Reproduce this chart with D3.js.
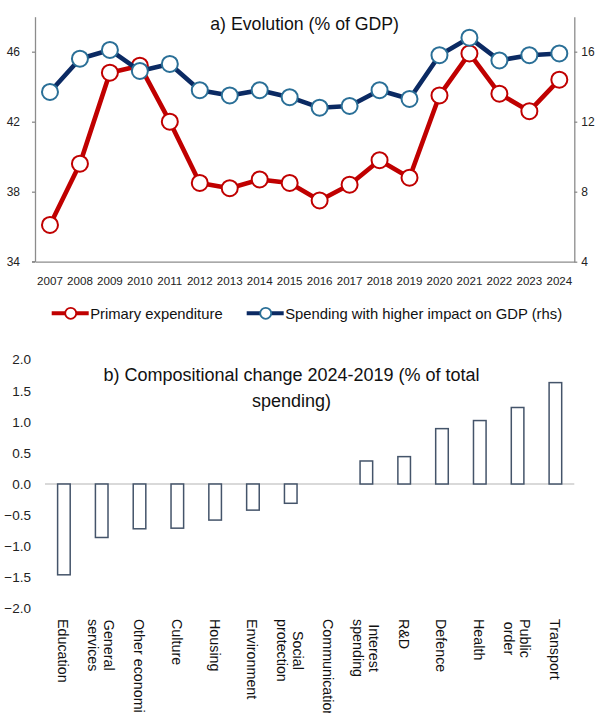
<!DOCTYPE html>
<html>
<head>
<meta charset="utf-8">
<script src="https://cdn.jsdelivr.net/npm/d3@7/dist/d3.min.js"></script>
<style>
  body { margin: 0; background: #fff; }
  svg { display: block; }
</style>
</head>
<body>
<svg id="chart" width="595" height="713"></svg>
<script>
// ---- Panel a) series ----
const years = [2007, 2008, 2009, 2010, 2011, 2012, 2013, 2014, 2015, 2016, 2017, 2018, 2019, 2020, 2021, 2022, 2023, 2024];
const primaryExpenditure = [36.1, 39.6, 44.8, 45.2, 42.0, 38.5, 38.2, 38.7, 38.5, 37.5, 38.4, 39.8, 38.8, 43.5, 45.9, 43.6, 42.6, 44.4];
const highImpactSpending = [13.7, 15.6, 16.1, 14.9, 15.3, 13.8, 13.5, 13.8, 13.4, 12.8, 12.9, 13.8, 13.3, 15.8, 16.8, 15.5, 15.8, 15.9];
const leftTicks = [34, 38, 42, 46];
const rightTicks = [4, 8, 12, 16];

// ---- Panel b) series ----
const categories = ["Education", "General\nservices", "Other economic", "Culture", "Housing", "Environment",
  "Social\nprotection", "Communication", "Interest\nspending", "R&D", "Defence", "Health", "Public\norder", "Transport"];
const compositionalChange = [-1.46, -0.86, -0.72, -0.71, -0.58, -0.42, -0.31, 0.0, 0.37, 0.44, 0.89, 1.02, 1.23, 1.63];
const changeTicks = [-2.0, -1.5, -1.0, -0.5, 0.0, 0.5, 1.0, 1.5, 2.0];

const RED = "#C00000", NAVY = "#0B2A63", TEAL = "#2A6F97", AXIS = "#8C8C8C", BAR = "#44546A";
const SANS = "'Liberation Sans', Arial, sans-serif";

const svg = d3.select("#chart");

// =============== a) Evolution ===============
const panelA = { left: 35, right: 574.3, top: 16.7, bottom: 261.7 };

const x = d3.scaleBand().domain(years).range([panelA.left, panelA.right]);
const yL = d3.scaleLinear().domain([34, 48]).range([panelA.bottom, panelA.top]);
const yR = d3.scaleLinear().domain([4, 18]).range([panelA.bottom, panelA.top]);
const cx = d => x(d) + x.bandwidth() / 2;

svg.append("text")
  .attr("x", (panelA.left + panelA.right) / 2).attr("y", 30)
  .attr("text-anchor", "middle")
  .style("font", `17.7px ${SANS}`).attr("fill", "#111")
  .text("a) Evolution (% of GDP)");

function styleAxis(g) {
  g.selectAll("path.domain").attr("stroke", AXIS).attr("stroke-width", 1.3);
  g.selectAll(".tick line").attr("stroke", AXIS).attr("stroke-width", 1.3);
  g.selectAll(".tick text").attr("fill", "#222");
}

svg.append("g")
  .attr("transform", `translate(${panelA.left},0)`)
  .call(d3.axisLeft(yL).tickValues(leftTicks).tickSize(3).tickSizeOuter(0).tickPadding(12).tickFormat(d3.format("d")))
  .call(styleAxis)
  .call(g => g.selectAll(".tick text").style("font", `12px ${SANS}`));

svg.append("g")
  .attr("transform", `translate(${panelA.right},0)`)
  .call(d3.axisRight(yR).tickValues(rightTicks).tickSize(3).tickSizeOuter(0).tickPadding(4).tickFormat(d3.format("d")))
  .call(styleAxis)
  .call(g => g.selectAll(".tick text").style("font", `12px ${SANS}`));

svg.append("g")
  .attr("transform", `translate(0,${panelA.bottom})`)
  .call(d3.axisBottom(x).tickSize(0).tickSizeOuter(0).tickPadding(15))
  .call(styleAxis)
  .call(g => g.selectAll(".tick text").style("font", `11.6px ${SANS}`));

// left-axis tick at 34 extends under the baseline
svg.append("line")
  .attr("x1", panelA.left - 3).attr("x2", panelA.left).attr("y1", panelA.bottom).attr("y2", panelA.bottom)
  .attr("stroke", AXIS).attr("stroke-width", 1.3);

function drawSeries(values, scale, lineColor, markerColor) {
  const pts = years.map((yr, i) => [cx(yr), scale(values[i])]);
  svg.append("path")
    .attr("d", d3.line()(pts))
    .attr("fill", "none").attr("stroke", lineColor).attr("stroke-width", 4.6)
    .attr("stroke-linejoin", "round");
  svg.append("g").selectAll("circle").data(pts).join("circle")
    .attr("cx", d => d[0]).attr("cy", d => d[1]).attr("r", 8)
    .attr("fill", "#fff").attr("stroke", markerColor).attr("stroke-width", 2);
}
drawSeries(primaryExpenditure, yL, RED, RED);
drawSeries(highImpactSpending, yR, NAVY, TEAL);

// legend
const legendItems = [
  { label: "Primary expenditure", line: RED, marker: RED, x0: 51.7 },
  { label: "Spending with higher impact on GDP (rhs)", line: NAVY, marker: TEAL, x0: 246.7 }
];
const legendY = 313.3;
const lg = svg.append("g").selectAll("g").data(legendItems).join("g")
  .attr("transform", d => `translate(${d.x0},${legendY})`);
lg.append("line").attr("x1", 0).attr("x2", 37).attr("stroke", d => d.line).attr("stroke-width", 4);
lg.append("circle").attr("cx", 19).attr("r", 5.5).attr("fill", "#fff")
  .attr("stroke", d => d.marker).attr("stroke-width", 1.8);
lg.append("text").attr("x", 38.5).attr("dy", "0.36em")
  .style("font", `14.8px ${SANS}`).attr("fill", "#111")
  .text(d => d.label);

// =============== b) Compositional change ===============
const panelB = { left: 45, right: 574.3 };
const xb = d3.scaleBand().domain(categories).range([panelB.left, panelB.right]);
const yb = d3.scaleLinear().domain([-2, 2]).range([608.4, 359.6]);
const barW = xb.bandwidth() * 0.333;
const bx = c => xb(c) + xb.bandwidth() / 2;

const titleB = svg.append("text")
  .attr("text-anchor", "middle")
  .style("font", `18px ${SANS}`).attr("fill", "#111");
titleB.append("tspan").attr("x", 291.5).attr("y", 381).text("b) Compositional change 2024-2019 (% of total");
titleB.append("tspan").attr("x", 291.5).attr("y", 407).text("spending)");

svg.append("g")
  .attr("transform", "translate(31,0)")
  .call(d3.axisLeft(yb).tickValues(changeTicks).tickSize(0).tickPadding(0).tickFormat(d3.format(".1f")))
  .call(g => g.select("path.domain").remove())
  .call(g => g.selectAll(".tick text").style("font", `13.5px ${SANS}`).attr("fill", "#222"));

svg.append("line")
  .attr("x1", panelB.left).attr("x2", panelB.right).attr("y1", yb(0)).attr("y2", yb(0))
  .attr("stroke", "#D9D9D9").attr("stroke-width", 1.8);

svg.append("g").selectAll("rect").data(categories).join("rect")
  .attr("x", c => bx(c) - barW / 2)
  .attr("y", (c, i) => yb(Math.max(0, compositionalChange[i])))
  .attr("width", barW)
  .attr("height", (c, i) => Math.abs(yb(compositionalChange[i]) - yb(0)))
  .attr("fill", "#fff").attr("stroke", BAR).attr("stroke-width", 1.5);

// rotated category labels, reading downward under each bar
const labelTop = 619, lineGap = 16.5;
const lab = svg.append("g").selectAll("g").data(categories).join("g")
  .attr("transform", c => `translate(${bx(c) - 0.5},${labelTop}) rotate(90)`);
lab.each(function (c) {
  const g = d3.select(this);
  const lines = c.split("\n");
  const texts = lines.map((ln, i) => g.append("text")
    .attr("y", (i - (lines.length - 1) / 2) * lineGap)
    .attr("dy", "0.35em")
    .attr("text-anchor", "middle")
    .style("font", `14.3px ${SANS}`).attr("fill", "#111")
    .text(ln));
  const maxLen = d3.max(texts, t => t.node().getComputedTextLength());
  texts.forEach(t => t.attr("x", maxLen / 2));
});
</script>
</body>
</html>
